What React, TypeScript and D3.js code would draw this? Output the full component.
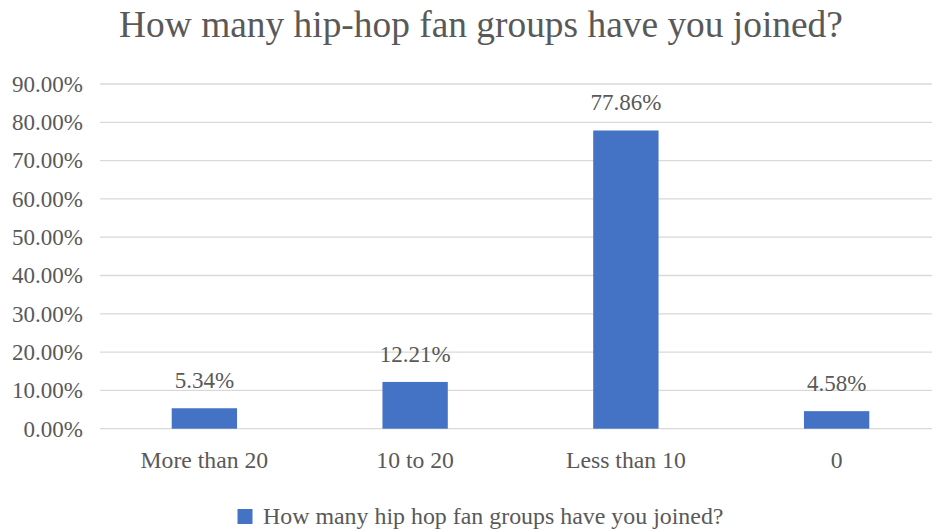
import React from "react";
import * as d3 from "d3";

const categories = ["More than 20", "10 to 20", "Less than 10", "0"];
const values = [5.34, 12.21, 77.86, 4.58];
const yTicks = [0, 10, 20, 30, 40, 50, 60, 70, 80, 90];
const title = "How many hip-hop fan groups have you joined?";
const seriesName = "How many hip hop fan groups have you joined?";

const W = 932;
const H = 531;
const FONT = "'Liberation Serif', 'Times New Roman', serif";
const TEXT = "#595959";
const BAR = "#4472C4";
const GRID = "#d9d9d9";

export default function App() {
  const x = d3.scaleBand<string>().domain(categories).range([99, 942]).padding(0);
  const y = d3.scaleLinear().domain([0, 90]).range([428.7, 84]);
  const barW = x.bandwidth() * 0.31;
  const fmt = (v: number) => v.toFixed(2) + "%";

  return (
    <svg width={W} height={H} style={{ position: "absolute", left: 0, top: 0, background: "#fff" }} fontFamily={FONT}>
      <rect x={0} y={0} width={W} height={H} fill="#fff" />
      <text x={481} y={36.7} textAnchor="middle" fontSize={37.4} fill={TEXT}>{title}</text>
      {yTicks.map((t) => (
        <g key={t}>
          <line x1={100} x2={W} y1={y(t)} y2={y(t)} stroke={GRID} strokeWidth={1.3} />
          <text x={83} y={y(t)} dy="0.34em" textAnchor="end" fontSize={23} fill={TEXT}>{t.toFixed(2) + "%"}</text>
        </g>
      ))}
      {categories.map((c, i) => {
        const cx = (x(c) as number) + x.bandwidth() / 2;
        return (
          <g key={c}>
            <rect x={cx - barW / 2} y={y(values[i])} width={barW} height={y(0) - y(values[i])} fill={BAR} />
            <text x={cx} y={y(values[i]) - 20} textAnchor="middle" fontSize={23} fill={TEXT}>{fmt(values[i])}</text>
            <text x={cx} y={467.5} textAnchor="middle" fontSize={23.7} fill={TEXT}>{c}</text>
          </g>
        );
      })}
      <rect x={237.5} y={509} width={15} height={15} fill={BAR} />
      <text x={263} y={523.7} fontSize={23.9} fill={TEXT}>{seriesName}</text>
    </svg>
  );
}
